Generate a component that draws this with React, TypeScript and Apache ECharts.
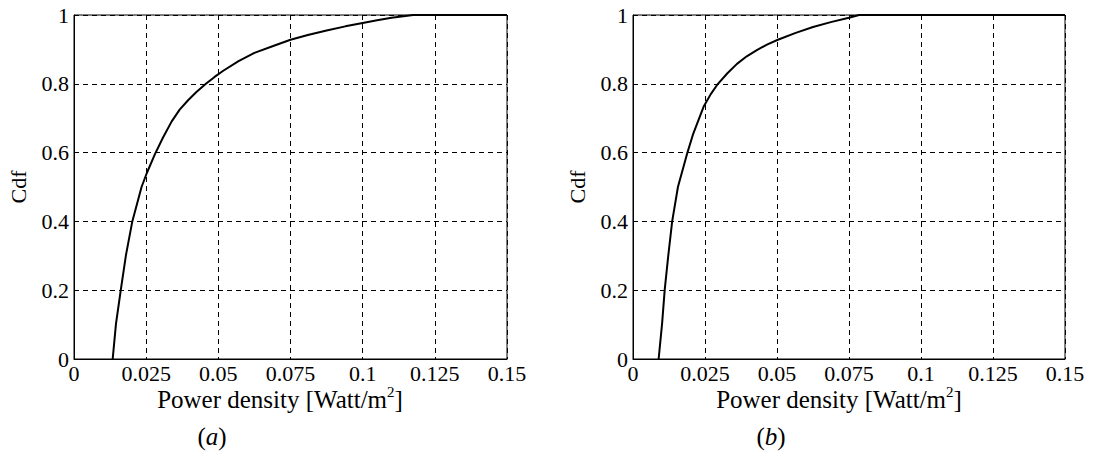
import React, { useEffect, useRef } from "react";
import * as echarts from "echarts";

// Panel (a)
const xA = [0.0134, 0.01455, 0.0162, 0.018, 0.0202, 0.0234, 0.0252, 0.028, 0.0308, 0.0338, 0.0366, 0.0396, 0.0425, 0.0457, 0.0487, 0.0517, 0.057, 0.0625, 0.069, 0.075, 0.081, 0.0875, 0.094, 0.1, 0.105, 0.11, 0.1175, 0.15];
const yA = [0, 0.103, 0.2, 0.302, 0.4, 0.5, 0.54, 0.595, 0.643, 0.69, 0.725, 0.753, 0.777, 0.8, 0.82, 0.838, 0.866, 0.89, 0.91, 0.928, 0.942, 0.955, 0.967, 0.977, 0.985, 0.992, 1, 1];
// Panel (b)
const xB = [0.0089, 0.0101, 0.011, 0.0122, 0.0136, 0.0156, 0.0189, 0.0208, 0.0245, 0.027, 0.0295, 0.0327, 0.0361, 0.0395, 0.043, 0.0465, 0.0503, 0.0565, 0.0625, 0.069, 0.075, 0.0785, 0.15];
const yB = [0, 0.103, 0.2, 0.297, 0.4, 0.5, 0.6, 0.652, 0.733, 0.77, 0.8, 0.83, 0.858, 0.88, 0.898, 0.914, 0.928, 0.948, 0.965, 0.98, 0.992, 1, 1];

const xTicks = [0, 0.025, 0.05, 0.075, 0.1, 0.125, 0.15];
const yTicks = [0, 0.2, 0.4, 0.6, 0.8, 1];
const xTitle = "Power density [Watt/m{sup|2}]";
const yTitle = "Cdf";
const panelLabels = ["a", "b"];

const FONT = "Times New Roman, Liberation Serif, serif";

export default function App() {
  const ref = useRef<HTMLDivElement>(null);
  useEffect(() => {
    if (!ref.current) return;
    const chart = echarts.init(ref.current, undefined, { renderer: "svg" });
    const grids = [
      { left: 74, top: 15, width: 433, height: 344 },
      { left: 633, top: 15, width: 432, height: 344 },
    ];
    const dashed = { show: true, lineStyle: { color: "#000", width: 1, type: [5, 4] as any } };
    const xAxis = grids.map((_, i) => ({
      type: "value" as const,
      gridIndex: i,
      min: xTicks[0],
      max: xTicks[xTicks.length - 1],
      interval: xTicks[1] - xTicks[0],
      axisLine: { show: true, lineStyle: { color: "#000", width: 1 } },
      axisTick: { show: false },
      splitLine: dashed,
      axisLabel: {
        color: "#000",
        fontFamily: FONT,
        fontSize: 22,
        margin: 3,
        formatter: (v: number) => String(Math.round(v * 1000) / 1000),
      },
    }));
    const yAxis = grids.map((_, i) => ({
      type: "value" as const,
      gridIndex: i,
      min: yTicks[0],
      max: yTicks[yTicks.length - 1],
      interval: yTicks[1] - yTicks[0],
      axisLine: { show: true, lineStyle: { color: "#000", width: 1 } },
      axisTick: { show: false },
      splitLine: dashed,
      axisLabel: {
        color: "#000",
        fontFamily: FONT,
        fontSize: 22,
        margin: 5,
        formatter: (v: number) => String(Math.round(v * 10) / 10),
      },
    }));
    const data = [xA.map((x, k) => [x, yA[k]]), xB.map((x, k) => [x, yB[k]])];
    const centers = [290, 849];
    const graphics: any[] = [];
    grids.forEach((g, i) => {
      graphics.push({
        type: "text",
        x: centers[i] - 10,
        y: 399,
        style: {
          text: xTitle,
          fontFamily: FONT,
          fontSize: 25,
          fill: "#000",
          align: "center",
          verticalAlign: "middle",
          rich: {
            sup: { fontSize: 15, fontFamily: FONT, fill: "#000", padding: [0, 0, 14, 0] },
          },
        },
      });
      graphics.push({
        type: "text",
        x: centers[i] - 78,
        y: 436,
        style: {
          text: "({i|" + panelLabels[i] + "})",
          fontFamily: FONT,
          fontSize: 25,
          fill: "#000",
          align: "center",
          verticalAlign: "middle",
          rich: { i: { fontStyle: "italic", fontSize: 25, fontFamily: FONT, fill: "#000" } },
        },
      });
      graphics.push({
        type: "text",
        x: g.left - 56,
        y: 187,
        rotation: Math.PI / 2,
        style: {
          text: yTitle,
          fontFamily: FONT,
          fontSize: 22,
          fill: "#000",
          align: "center",
          verticalAlign: "middle",
        },
      });
    });
    chart.setOption({
      animation: false,
      backgroundColor: "#fff",
      textStyle: { fontFamily: FONT },
      grid: grids.map((g) => ({ ...g, show: true, borderColor: "#000", borderWidth: 1, backgroundColor: "transparent" })),
      xAxis,
      yAxis,
      series: data.map((d, i) => ({
        type: "line",
        xAxisIndex: i,
        yAxisIndex: i,
        data: d,
        showSymbol: false,
        smooth: false,
        lineStyle: { color: "#000", width: 2 },
      })),
      graphic: graphics,
    });
    return () => chart.dispose();
  }, []);
  return <div ref={ref} style={{ position: "fixed", left: 0, top: 0, width: 1095, height: 476 }} />;
}
